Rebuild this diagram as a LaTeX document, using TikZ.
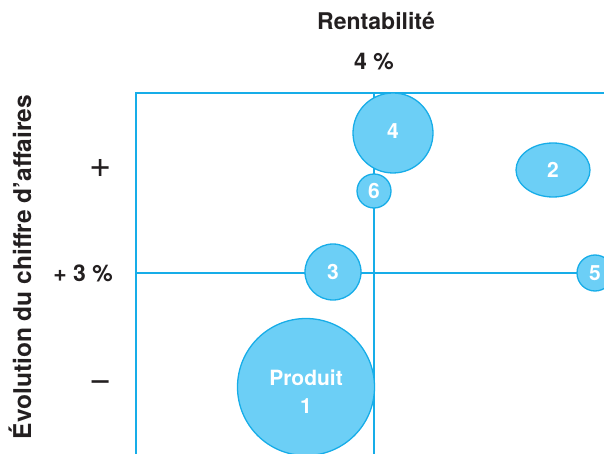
\documentclass[tikz,border=0pt]{standalone}
\usepackage{fontspec}
\setmainfont{TeX Gyre Heros}
\usepackage{tikz}
\usetikzlibrary{shapes.geometric}
\definecolor{lineblue}{HTML}{17ADE8}
\definecolor{fillblue}{HTML}{6CCFF6}
\definecolor{txt}{HTML}{231F20}
\tikzset{
  axisline/.style={draw=lineblue, line width=1.6pt},
  bubble/.style={draw=lineblue, fill=fillblue, line width=1.3pt},
  btext/.style={text=white, font=\bfseries\fontsize{21}{28}\selectfont, align=center},
  lab/.style={text=txt, font=\bfseries\fontsize{23}{26}\selectfont},
  sym/.style={text=txt, font=\fontsize{38}{42}\selectfont},
}
\begin{document}
\begin{tikzpicture}[x=1pt,y=-1pt]
\useasboundingbox (0,0) rectangle (604,454);
% axes
\coordinate (tl) at (136,93);
\coordinate (tr) at (604,93);
\coordinate (bl) at (136,454);
\coordinate (vt) at (374,93);
\coordinate (vb) at (374,454);
\coordinate (hl) at (136,273);
\coordinate (hr) at (604,273);
\draw[axisline] (bl) -- (tl) -- (tr);
\draw[axisline] (vt) -- (vb);
\draw[axisline] (hl) -- (hr);
% bubbles
\node[bubble, circle, minimum size=80pt, inner sep=0pt] (b4) at (393,133) {};
\node[btext] at (393,131) {4};
\node[bubble, circle, minimum size=34pt, inner sep=0pt] (b6) at (374,191) {};
\node[btext] at (b6) {6};
\node[bubble, ellipse, minimum width=74pt, minimum height=54pt, inner sep=0pt] (b2) at (553,170) {};
\node[btext] at (b2) {2};
\node[bubble, circle, minimum size=56pt, inner sep=0pt] (b3) at (333,272) {};
\node[btext] at (b3) {3};
\node[bubble, circle, minimum size=36pt, inner sep=0pt] (b5) at (595,273) {};
\node[btext] at (b5) {5};
\node[bubble, circle, minimum size=137pt, inner sep=0pt] (b1) at (306,387) {};
\node[btext] at (306,392) {Produit\\1};
% labels
\node[lab] (rent) at (376,21) {Rentabilité};
\node[lab] (quatre) at (374,62) {4 \%};
\node[sym] (plus) at (101,168) {+};
\node[lab] (trois) at (83,273) {+ 3 \%};
\node[sym] (moins) at (101,386) {−};
\node[lab, font=\bfseries\fontsize{24.5}{26}\selectfont, rotate=90] (evol) at (20,267) {Évolution du chiffre d’affaires};
\end{tikzpicture}
\end{document}
